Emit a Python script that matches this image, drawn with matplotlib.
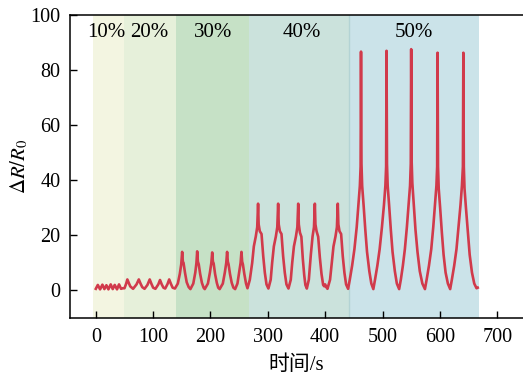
import numpy as np
import matplotlib.pyplot as plt

plt.rcParams.update({
    "font.family": ["Liberation Serif", "Noto Sans CJK SC"],
    "mathtext.fontset": "stix",
    "font.size": 14.5,
})

# time (s) and resistance change
t = [0, 3.5, 7.5, 11.5, 15, 18.5, 22, 26, 29.5, 33, 37, 40.5, 44, 47,
     50, 53, 55, 57, 60, 65, 71, 75, 78, 81, 85, 90, 94, 97, 100, 104,
     109, 112, 115, 118, 121, 125, 128, 131, 134, 138,
     143, 146.5, 149, 150.6, 151.8, 153, 155.5, 158.5, 162, 165,
     170, 173.5, 175.5, 176.8, 178, 179.5, 182, 185, 188, 190,
     195.5, 199, 201.5, 203, 204.2, 205.5, 208, 211, 213.5, 216,
     221.5, 225, 227.5, 229, 230.2, 231.5, 234, 237, 240, 243,
     247, 250, 252.5, 254, 255.2, 256.5, 259, 262, 264.5,
     268.6, 272.7, 275.6, 279, 281.5, 283, 284, 286, 289, 292, 294.8, 297.7, 301,
     305, 307.5, 310.5, 314, 316.5, 318, 319, 321, 323.8, 326.7, 329.6, 332.5, 336,
     340, 342.5, 345.5, 349, 351.5, 353, 354, 356, 358.5, 361, 363.5, 365.5, 368,
     371.5, 373, 375, 378, 380.5, 382, 383, 385, 387.8, 390.7, 393.6, 396.5, 398.5, 400, 402, 404,
     408.5, 411.5, 414.5, 418, 420.5, 422, 423, 425, 427.8, 430.7, 433.6, 436.5, 440,
     443, 447, 451, 455, 458, 460.5, 461.8, 462.5, 463.3, 464.5, 467, 470, 473, 477, 480.5, 484,
     487, 491, 495, 499, 502.5, 505, 506.3, 507, 507.8, 509, 511.5, 514.5, 517.5, 521.5, 525, 529,
     532, 535.5, 539, 542.5, 545.5, 548, 549.3, 550, 550.8, 552, 554.5, 557.5, 561, 565, 569.5, 574,
     577, 581, 585, 588.5, 591.5, 594, 595.3, 596, 596.8, 598, 600.5, 603.5, 606.5, 610, 614, 618,
     621, 625, 629, 632.5, 636, 638.5, 640.2, 641, 641.8, 643, 645.5, 649, 652, 656, 660, 664, 666]
dr = [0.6, 2.0, 0.4, 2.1, 0.5, 1.9, 0.4, 2.2, 0.5, 2.0, 0.4, 2.2, 0.6, 0.8,
      0.8, 2.5, 4.0, 3.0, 1.5, 0.6, 2.2, 4.0, 2.5, 1.2, 0.6, 2.0, 4.0, 2.4, 1.0, 0.6,
      2.2, 3.8, 2.2, 1.0, 0.7, 2.3, 4.0, 2.4, 1.0, 0.7,
      2.5, 6, 9.5, 14, 10.5, 10, 6.5, 3, 1.2, 0.5,
      2.5, 6.5, 10, 14.2, 10.5, 9.5, 6, 2.8, 1, 0.5,
      2.5, 6.5, 10, 13.8, 10.5, 9.8, 6, 2.8, 1, 0.5,
      2.5, 6.5, 10, 14, 10.5, 9.5, 6, 2.8, 1, 0.5,
      2.5, 6.5, 10, 14, 10.5, 9.5, 6, 2.5, 0.8,
      3.9, 10, 16, 19.6, 23, 31.5, 24, 21.5, 20.5, 12.4, 6.4, 2.2, 0.7,
      3.9, 10, 16, 19.6, 23, 31.5, 24, 21.5, 20.5, 12.4, 6.4, 2.2, 0.7,
      3.9, 10, 16, 19.6, 23, 31.5, 24, 21, 19.5, 11.5, 5.5, 2.0, 0.7,
      3.9, 8, 13, 19.6, 23, 31.5, 24, 21.5, 19.5, 12, 6, 2.0, 1.5, 2.2, 1.2, 0.6,
      3.9, 10, 16, 19.6, 23, 31.5, 24, 21.5, 20.5, 12.4, 6.4, 2.2, 0.6,
      4, 9, 15, 23, 31, 38, 45, 86.7, 46, 38, 31, 22, 14, 7, 2.5, 0.5,
      4, 9, 15, 23, 31, 38, 45, 87, 46, 38, 31, 22, 14, 7, 2.5, 0.5,
      4, 9, 15, 23, 31, 38, 46, 87.6, 47, 39, 31, 22, 14, 7, 2.5, 0.5,
      4, 9, 15, 23, 31, 38, 45, 86.3, 45, 37, 30, 21, 13, 6.5, 2.5, 0.5,
      4, 9, 15, 23, 31, 38, 45, 86.3, 45, 37, 30, 21, 13, 6.5, 2.5, 0.8, 1.0]

# strain stages
stage_edges = [-5, 49, 139, 267.5, 442, 669]
stage_labels = ["10%", "20%", "30%", "40%", "50%"]
stage_label_x = [19, 92.5, 204, 360, 555]
stage_colors = ["#f3f5e1", "#e6f0da", "#c6e1c6", "#cbe2dc", "#cbe3e9"]

fig = plt.figure(figsize=(5.23, 3.76), dpi=100)
ax = fig.add_axes([70 / 523, 1 - 318 / 376, 453 / 523, 303 / 376])

for i in range(len(stage_labels)):
    ax.axvspan(stage_edges[i], stage_edges[i + 1], color=stage_colors[i], lw=0, zorder=0)
    ax.text(stage_label_x[i], 93.5, stage_labels[i], ha="center", va="center", fontsize=15)
ax.axvline(stage_edges[4], color="#b3d3d4", lw=1.0, zorder=1)

ax.plot(t, dr, color="#d13a4b", lw=1.9, zorder=3)

ax.set_xlim(-45, 745)
ax.set_ylim(-10, 100)
ax.set_xticks(np.arange(0, 701, 100))
ax.set_yticks(np.arange(0, 101, 20))
ax.tick_params(direction="in", length=5, width=1, pad=7)
ax.spines["right"].set_visible(False)
for s in ["left", "bottom", "top"]:
    ax.spines[s].set_linewidth(1.1)

ax.set_xlabel("时间/s", fontsize=15, labelpad=6)
ax.set_ylabel(r"$\Delta R/R_0$", fontsize=15, labelpad=0)

plt.savefig("out.png", dpi=100)
